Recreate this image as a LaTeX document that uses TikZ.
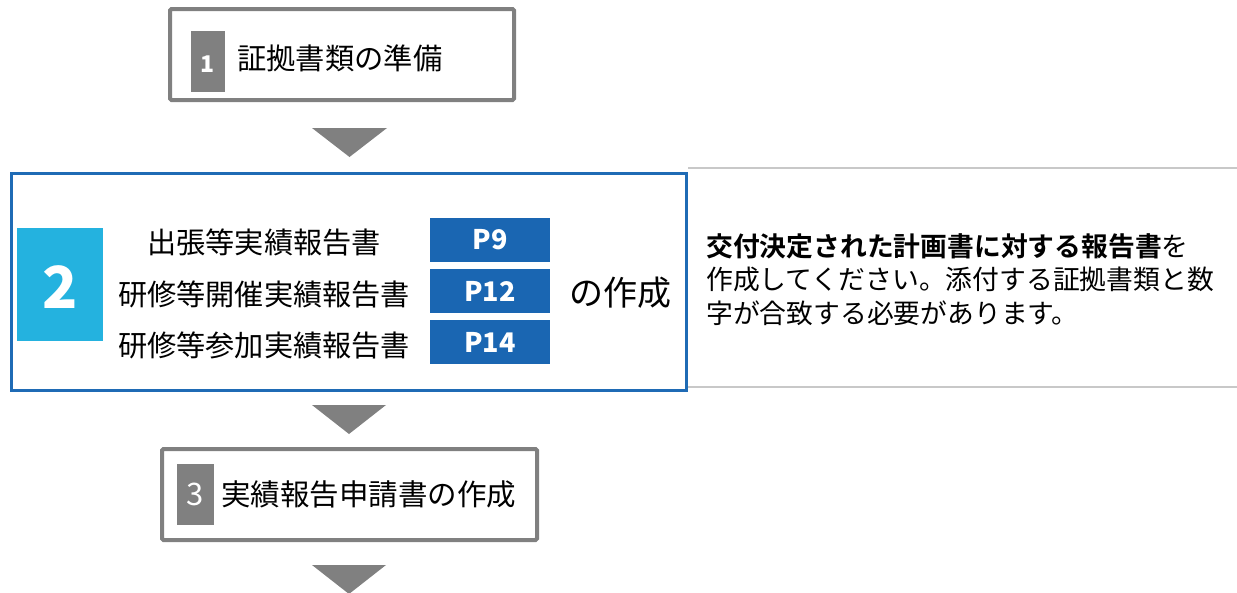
\documentclass[tikz,border=0pt]{standalone}
\usepackage{fontspec}
\setmainfont{Noto Sans CJK JP}
\newfontfamily\jpbold{Noto Sans CJK JP Bold}
\definecolor{stepgray}{HTML}{808080}
\definecolor{frameblue}{HTML}{1F6BB5}
\definecolor{pageblue}{HTML}{1A66B2}
\definecolor{numcyan}{HTML}{24B2DF}
\definecolor{rulegray}{HTML}{C8C8C8}
\begin{document}
\begin{tikzpicture}[x=1pt,y=-1pt,
  grayframe/.style={draw=stepgray,line width=4pt,fill=white,rounded corners=1.5pt},
  numsq/.style={fill=stepgray,draw=none},
  numtxt/.style={text=white,inner sep=0pt,font=\fontsize{#1}{#1}\selectfont},
  lbl/.style={inner sep=0pt,font=\fontsize{#1}{#1}\selectfont},
  pbox/.style={fill=pageblue,draw=none,minimum width=120pt,minimum height=44pt,inner sep=0pt,text=white,font=\bfseries\fontsize{27}{27}\selectfont},
  downtri/.style={fill=stepgray,draw=none}]
\useasboundingbox (0,0) rectangle (1237,592);
\begin{scope}
\clip (0,0) rectangle (1237,592);
% step 1
\path[grayframe] (170,9) rectangle (514,100);
\path[numsq] (191,31) rectangle (225,92);
\node[numtxt=23,font=\bfseries\fontsize{23}{23}\selectfont] (n1) at (207.5,64) {1};
\node[lbl=29.3,anchor=base west] (t1) at (237,69) {証拠書類の準備};
\path[downtri] (312,128) -- (387,128) -- (349.5,157) -- cycle;
% step 2
\draw[rulegray,line width=2pt] (688,168) -- (1237,168);
\draw[rulegray,line width=2pt] (688,387) -- (1237,387);
\path[draw=frameblue,line width=3pt,fill=white] (11.5,173.5) rectangle (686.5,390.5);
\path[fill=numcyan] (17,228) rectangle (103,341);
\node[numtxt=58,font=\bfseries\fontsize{58}{58}\selectfont] (n2) at (60,287) {2};
\node[lbl=29.2,anchor=base] (r1) at (264,253.5) {出張等実績報告書};
\node[lbl=29.2,anchor=base] (r2) at (264,305.5) {研修等開催実績報告書};
\node[lbl=29.2,anchor=base] (r3) at (264,356.5) {研修等参加実績報告書};
\node[pbox] (p1) at (490,240) {P9};
\node[pbox] (p2) at (490,291) {P12};
\node[pbox] (p3) at (490,342) {P14};
\node[lbl=34,anchor=base west] (mk) at (569,305) {の作成};
\node[inner sep=0pt,anchor=north west,align=left,font=\fontsize{26.8}{33.5}\selectfont] (desc) at (706,233)
  {{\jpbold 交付決定された計画書に対する報告書}を\\作成してください。添付する証拠書類と数\\字が合致する必要があります。};
\path[downtri] (312,405) -- (386,405) -- (349,434) -- cycle;
% step 3
\path[grayframe] (162,449) rectangle (537,540);
\path[numsq] (177,464) rectangle (214,525);
\node[numtxt=31] (n3) at (195.5,494) {3};
\node[lbl=29.5,anchor=base west] (t3) at (221,505.5) {実績報告申請書の作成};
\path[downtri] (312,565) -- (386,565) -- (349,594) -- cycle;
\end{scope}
\end{tikzpicture}
\end{document}
